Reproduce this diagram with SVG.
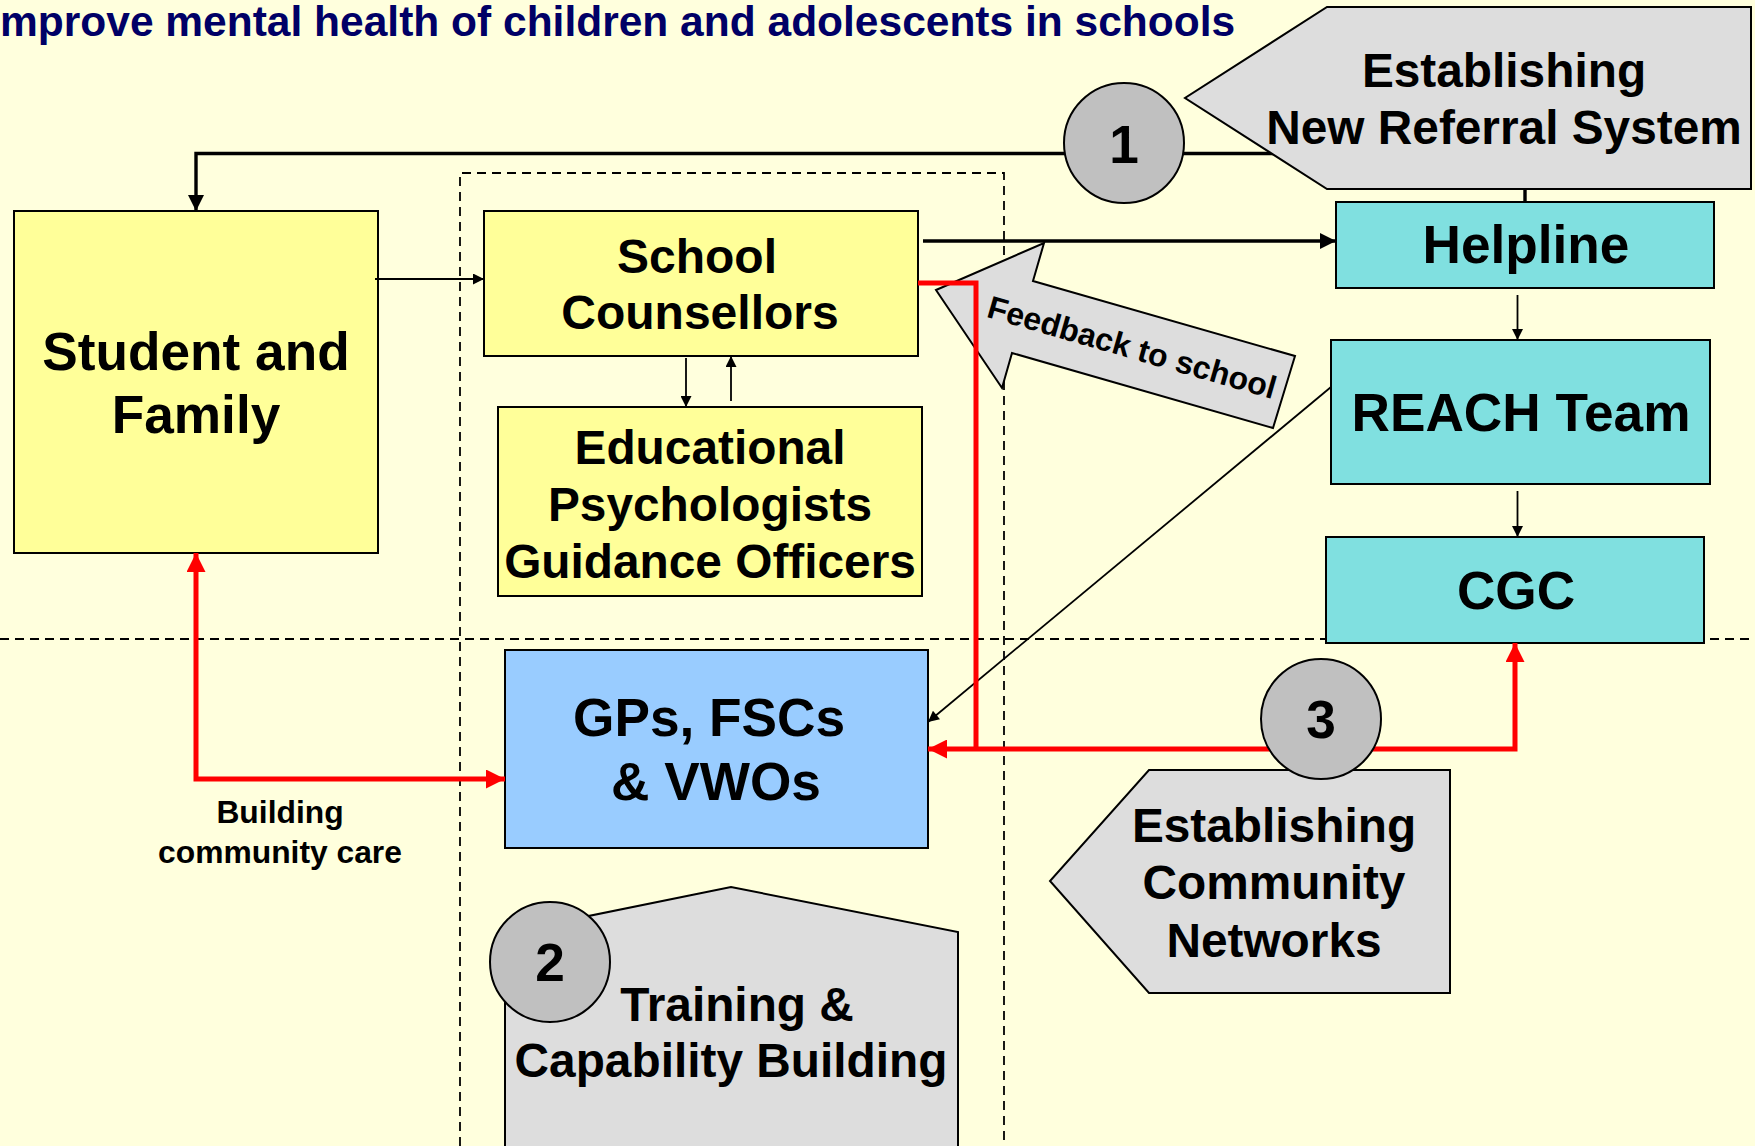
<svg xmlns="http://www.w3.org/2000/svg" width="1755" height="1146" viewBox="0 0 1755 1146">
<defs>
<style>
text{font-family:"Liberation Sans",Arial,Helvetica,sans-serif;font-weight:bold;fill:#000;text-anchor:middle}
.title{fill:#000066;text-anchor:start;font-size:42.5px}
.box{stroke:#000;stroke-width:2}
.yel{fill:#FFFF99}
.cyan{fill:#80E0E0}
.blue{fill:#99CCFF}
.gray{fill:#DDDDDD;stroke:#000;stroke-width:2}
.circ{fill:#C0C0C0;stroke:#000;stroke-width:2}
.dash{fill:none;stroke:#000;stroke-width:1.8;stroke-dasharray:9 6}
.thin{fill:none;stroke:#000;stroke-width:1.8}
.thick{fill:none;stroke:#000;stroke-width:3.4}
.red{fill:none;stroke:#FF0000;stroke-width:5}
.t53{font-size:53.2px}
.t48{font-size:48px}
.t47{font-size:47.8px}
.t32{font-size:31.8px}
</style>
<marker id="ahThin" viewBox="0 0 10 10" refX="10" refY="5" markerWidth="13" markerHeight="11" markerUnits="userSpaceOnUse" orient="auto"><path d="M0,0 L10,5 L0,10 z" fill="#000"/></marker>
<marker id="ahThick" viewBox="0 0 10 10" refX="10" refY="5" markerWidth="16" markerHeight="16" markerUnits="userSpaceOnUse" orient="auto"><path d="M0,0 L10,5 L0,10 z" fill="#000"/></marker>
<marker id="ahRed" viewBox="0 0 10 10" refX="10" refY="5" markerWidth="21" markerHeight="19" markerUnits="userSpaceOnUse" orient="auto-start-reverse"><path d="M0,0 L10,5 L0,10 z" fill="#FF0000"/></marker>
</defs>
<rect x="0" y="0" width="1755" height="1146" fill="#FFFFDD"/>
<text class="title" x="0" y="36">mprove mental health of children and adolescents in schools</text>

<g id="guides">
<path class="dash" d="M460,1146 L460,173 L1004,173 L1004,1146"/>
<path class="dash" d="M0,639 L1755,639"/>
</g>

<g id="connectors-under">
<path class="thick" d="M1525,202 L1525,153.5 L196,153.5 L196,211" marker-end="url(#ahThick)"/>
</g>

<g id="student">
<rect class="box yel" x="14" y="211" width="364" height="342"/>
<text class="t53" x="196" y="370">Student and</text>
<text class="t53" x="196" y="433">Family</text>
</g>

<g id="school-counsellors">
<rect class="box yel" x="484" y="211" width="434" height="145"/>
<text class="t48" x="697" y="273">School</text>
<text class="t48" x="700" y="329">Counsellors</text>
</g>

<g id="edu-psych">
<rect class="box yel" x="498" y="407" width="424" height="189"/>
<text class="t47" x="710" y="464">Educational</text>
<text class="t47" x="710" y="521">Psychologists</text>
<text class="t47" x="710" y="578">Guidance Officers</text>
</g>

<g id="helpline">
<rect class="box cyan" x="1336" y="202" width="378" height="86"/>
<text class="t53" x="1526" y="263">Helpline</text>
</g>

<g id="reach">
<rect class="box cyan" x="1331" y="340" width="379" height="144"/>
<text class="t53" x="1521" y="431">REACH Team</text>
</g>

<g id="cgc">
<rect class="box cyan" x="1326" y="537" width="378" height="106"/>
<text class="t53" x="1516" y="609">CGC</text>
</g>

<g id="gps">
<rect class="box blue" x="505" y="650" width="423" height="198"/>
<text class="t53" x="709" y="736">GPs, FSCs</text>
<text class="t53" x="716" y="800">&amp; VWOs</text>
</g>

<g id="referral-system">
<polygon class="gray" points="1327,7 1751,7 1751,189 1327,189 1185,98"/>
<text class="t47" x="1504" y="87">Establishing</text>
<text class="t47" x="1504" y="144">New Referral System</text>
</g>

<g id="step1">
<circle class="circ" cx="1124" cy="143" r="60"/>
<text class="t53" x="1124" y="163">1</text>
</g>

<g id="feedback">
<polygon class="gray" points="936,290 1044,243 1033,281 1295,356 1273,428 1012,353 1002,388"/>
<text transform="rotate(16 1129 358)" x="1129" y="358" style="font-size:32px">Feedback to school</text>
</g>

<g id="training">
<polygon class="gray" points="505,933 731,887 958,932 958,1150 505,1150"/>
<text class="t47" x="737" y="1021">Training &amp;</text>
<text class="t47" x="731" y="1077">Capability Building</text>
</g>

<g id="community-networks">
<polygon class="gray" points="1149,770 1450,770 1450,993 1149,993 1050,881"/>
<text class="t47" x="1274" y="842">Establishing</text>
<text class="t47" x="1274" y="899">Community</text>
<text class="t47" x="1274" y="957">Networks</text>
</g>

<g id="connectors">
<path class="thin" d="M375,279 L484,279" marker-end="url(#ahThin)"/>
<path class="thick" d="M923,241 L1336,241" marker-end="url(#ahThick)"/>
<path class="thin" d="M686,358 L686,407" marker-end="url(#ahThin)"/>
<path class="thin" d="M731,401 L731,356" marker-end="url(#ahThin)"/>
<path class="thin" d="M1517.5,295 L1517.5,340" marker-end="url(#ahThin)"/>
<path class="thin" d="M1517.5,491 L1517.5,537" marker-end="url(#ahThin)"/>
<path class="thin" d="M1331,387 L928,722" marker-end="url(#ahThin)"/>
<path class="red" d="M196,553 L196,779 L505,779" marker-start="url(#ahRed)" marker-end="url(#ahRed)"/>
<path class="red" d="M918,283 L976,283 L976,749"/>
<path class="red" d="M1515,643 L1515,749 L928,749" marker-start="url(#ahRed)" marker-end="url(#ahRed)"/>
<text class="t32" x="280" y="823">Building</text>
<text class="t32" x="280" y="863">community care</text>
</g>

<g id="step3">
<circle class="circ" cx="1321" cy="719" r="60"/>
<text class="t53" x="1321" y="738">3</text>
</g>

<g id="step2">
<circle class="circ" cx="550" cy="962" r="60"/>
<text class="t53" x="550" y="981">2</text>
</g>
</svg>
